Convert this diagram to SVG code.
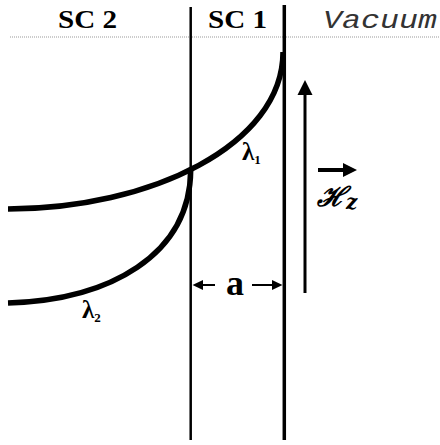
<svg xmlns="http://www.w3.org/2000/svg" width="440" height="445" viewBox="0 0 440 445">
<style>
.lbl{font-family:"Liberation Serif","DejaVu Serif",serif;font-weight:bold;fill:#000}
.curve{fill:none;stroke:#000;stroke-width:5.5}
.wall{stroke:#000;fill:none}
</style>
<rect width="440" height="445" fill="#fff"/>
<line x1="10" y1="37" x2="440" y2="37" stroke="#999" stroke-width="1" stroke-dasharray="1,1"/>
<g id="connectors">
<line class="wall" x1="190.7" y1="7" x2="190.7" y2="440" stroke-width="2.5"/>
<line class="wall" x1="284.3" y1="5" x2="284.3" y2="440" stroke-width="3.5"/>
<path class="curve" d="M8,209 C150,209 283,145 283,52"/>
<path class="curve" d="M8,303 C110,300 190,255 190.7,170"/>
<line x1="305" y1="293" x2="305" y2="92" stroke="#000" stroke-width="3"/>
<path d="M297.5,95 L305,80 L312.5,95 Z" fill="#000"/>
<line x1="318" y1="170" x2="345" y2="170" stroke="#000" stroke-width="4"/>
<path d="M343,163 L357,170 L343,177 Z" fill="#000"/>
<line x1="215" y1="285" x2="201" y2="285" stroke="#000" stroke-width="2"/>
<path d="M203,280 L192.5,285 L203,290 Z" fill="#000"/>
<line x1="252" y1="285" x2="273" y2="285" stroke="#000" stroke-width="2"/>
<path d="M272,280 L282.5,285 L272,290 Z" fill="#000"/>
</g>
<g id="sc2"><text class="lbl" x="58" y="28" font-size="25" textLength="59" lengthAdjust="spacingAndGlyphs">SC 2</text></g>
<g id="sc1"><text class="lbl" x="208" y="28" font-size="25" textLength="59" lengthAdjust="spacingAndGlyphs">SC 1</text></g>
<g id="vacuum"><text x="323" y="28" font-family="'Liberation Mono','Courier New',monospace" font-style="italic" font-size="25" textLength="114" lengthAdjust="spacingAndGlyphs" fill="#333">Vacuum</text></g>
<g id="lambda1"><text class="lbl" x="242" y="160" font-size="25">λ<tspan font-size="13" dy="4">1</tspan></text></g>
<g id="lambda2"><text class="lbl" x="82" y="318" font-size="25">λ<tspan font-size="13" dy="4">2</tspan></text></g>
<g id="a"><text class="lbl" x="235" y="295" font-size="36" text-anchor="middle">a</text></g>
<g id="hz"><text x="317" y="206" font-family="'DejaVu Serif','Liberation Serif',serif" font-style="italic" font-weight="bold" font-size="27" fill="#000">ℋ<tspan font-size="20" dy="3">z</tspan></text></g>
</svg>
